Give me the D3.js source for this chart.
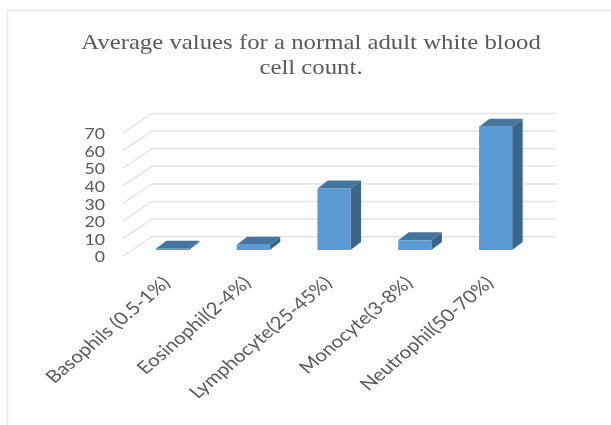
<!DOCTYPE html>
<html>
<head>
<meta charset="utf-8">
<script src="https://cdn.jsdelivr.net/npm/d3@7"></script>
<style>
  html, body { margin: 0; padding: 0; background: #fff; }
  svg { display: block; filter: blur(0.5px); }
</style>
</head>
<body>
<div id="chart"></div>
<script>
/* Average WBC values - fake 3D column chart */

const categories = ['Basophils (0.5-1%)', 'Eosinophil(2-4%)', 'Lymphocyte(25-45%)', 'Monocyte(3-8%)', 'Neutrophil(50-70%)'];
const values = [0.75, 3, 35, 5.5, 70];
const yTicks = [0, 10, 20, 30, 40, 50, 60, 70];
const titleLines = ['Average values for a normal adult white blood', 'cell count.'];

const width = 611;
const height = 425;

// the source picture is stretched sideways, so the text is too
const stretch = 1.17;

const colors = {
  front: '#5b9bd5',
  side: '#3b6689',
  top: '#44759f',
  grid: '#e4e4e4',
  border: '#e6e6e6',
  label: '#595959',
  title: '#595959'
};

const svg = d3.select('#chart')
  .append('svg')
  .attr('width', width)
  .attr('height', height);

// Chart frame
svg.append('path')
  .attr('d', `M7.5,${height}V10.5H${width}`)
  .attr('fill', 'none')
  .attr('stroke', colors.border)
  .attr('stroke-width', 1.5);

// Title
svg.append('g')
  .selectAll('text')
  .data(titleLines)
  .enter()
  .append('text')
  .attr('transform', (d, i) => `translate(311,${49 + i * 25}) scale(1.18,1)`)
  .attr('text-anchor', 'middle')
  .attr('fill', colors.title)
  .attr('font-family', '"Liberation Serif", serif')
  .attr('font-size', '21px')
  .text(d => d);

// Scales
const x = d3.scaleBand()
  .domain(categories)
  .range([132, 536])
  .paddingInner(0.59)
  .paddingOuter(0.295);

// bars stand on this one
const y = d3.scaleLinear()
  .domain([0, 70])
  .range([250, 126.8]);

// the back wall and the front edge are the same scale shifted
const wallBack = { dx: 29, dy: -13.3 };
const wallFront = { x: 123, dy: 6 };
const wallRight = 556;
const barDepth = { dx: 10.5, dy: -8 };

// Gridlines: side wall diagonal, then back wall
const grid = svg.append('g');
grid.selectAll('.grid-line')
  .data(yTicks)
  .enter()
  .append('path')
  .attr('class', 'grid-line')
  .attr('d', d => {
    const y0 = y(d) + wallFront.dy;
    return `M${wallFront.x},${y0}L${wallFront.x + wallBack.dx},${y(d) + wallBack.dy}H${wallRight}`;
  })
  .attr('fill', 'none')
  .attr('stroke', colors.grid)
  .attr('stroke-width', 1.5);

// Bars
const bars = svg.append('g')
  .selectAll('.bar')
  .data(categories.map((c, i) => ({ name: c, value: values[i] })))
  .enter()
  .append('g')
  .attr('class', 'bar');

bars.append('path')
  .attr('fill', colors.side)
  .attr('d', d => {
    const x1 = x(d.name) + x.bandwidth();
    return `M${x1},${y(0)}V${y(d.value)}l${barDepth.dx},${barDepth.dy}V${y(0) + barDepth.dy}Z`;
  });

bars.append('path')
  .attr('fill', colors.top)
  .attr('d', d => {
    const x0 = x(d.name);
    return `M${x0},${y(d.value)}l${barDepth.dx},${barDepth.dy}h${x.bandwidth()}l${-barDepth.dx},${-barDepth.dy}Z`;
  });

bars.append('rect')
  .attr('x', d => x(d.name))
  .attr('y', d => y(d.value))
  .attr('width', x.bandwidth())
  .attr('height', d => y(0) - y(d.value))
  .attr('fill', colors.front);

// Y Axis
const yAxis = svg.append('g')
  .attr('transform', `translate(105,${wallFront.dy + 1}) scale(1.14,1)`)
  .call(d3.axisLeft(y).tickValues(yTicks).tickSize(0).tickPadding(0));

yAxis.select('.domain').remove();
yAxis.selectAll('text')
  .attr('fill', colors.label)
  .attr('font-family', 'Lato, sans-serif')
  .attr('font-size', '15.5px');

// X labels, rotated
svg.append('g')
  .selectAll('.x-label')
  .data(categories)
  .enter()
  .append('text')
  .attr('class', 'x-label')
  .attr('transform', d => `translate(${x(d) + x.bandwidth() / 2 - 1},284) scale(${stretch},1) rotate(-45)`)
  .attr('text-anchor', 'end')
  .attr('fill', colors.label)
  .attr('font-family', 'Lato, sans-serif')
  .attr('font-size', '17.5px')
  .text(d => d);
</script>
</body>
</html>
